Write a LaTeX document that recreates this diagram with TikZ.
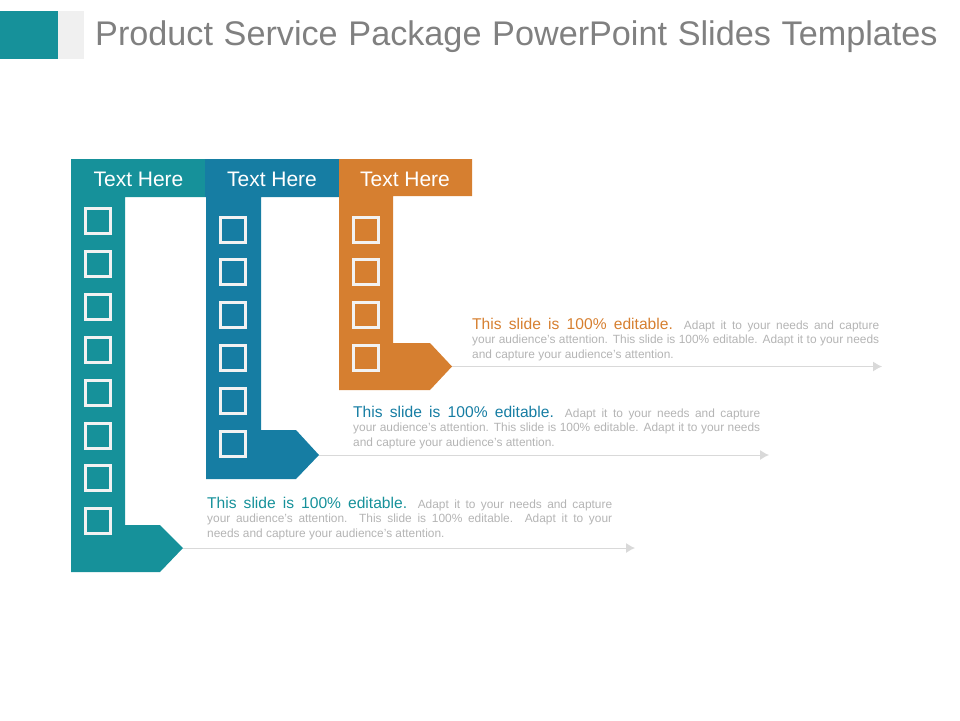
\documentclass[tikz,border=0pt]{standalone}
\usepackage{fontspec}
\setmainfont{Liberation Sans}
\definecolor{tealc}{HTML}{16919A}
\definecolor{bluec}{HTML}{167DA3}
\definecolor{orangec}{HTML}{D67F30}
\definecolor{greyc}{HTML}{B4B4B4}
\definecolor{linec}{HTML}{D9D9D9}
\usetikzlibrary{arrows.meta}
\tolerance=9999
\hbadness=10000
\hfuzz=20pt
\newcommand{\leadtext}[2]{{\fontsize{15.6}{14.4}\selectfont\color{#1}#2}}
\tikzset{
  head/.style={
    % The shape:
    shape=rectangle,inner sep=0pt,
    % The size:
    minimum width=134,minimum height=38,
    % The text:
    text=white,font=\fontsize{21}{24}\selectfont
  },
  box/.style={
    shape=rectangle,inner sep=0pt,minimum size=25,
    draw=white!95!black,line width=3.5
  },
  note/.style={
    anchor=north west,inner sep=0pt,text width=#1,align=justify,
    text=greyc,font=\fontsize{11.9}{14.4}\selectfont
  },
  guide/.style={draw=linec,line width=1,-{Latex[length=9,width=10,fill=linec]}}
}
\begin{document}
\begin{tikzpicture}[x=1pt,y=-1pt]
	\useasboundingbox (0,0) rectangle (960,720);
	% title band
	\fill[tealc] (0,11) rectangle (58,59);
	\fill[white!94!black] (58,11) rectangle (84,59);
	\node[anchor=west,inner sep=0pt,text=black!50,font=\fontsize{34.2}{40}\selectfont] (title) at (95,36.5)
		{Product\hspace{1.2pt} Service\hspace{1.2pt} Package\hspace{1.2pt} PowerPoint\hspace{1.2pt} Slides\hspace{1.2pt} Templates};
	% the three bars
	\fill[tealc] (71,159) -- (205,159) -- (205,197) -- (125,197) -- (125,525) -- (160,525)
		-- (183,548) coordinate (tipa) -- (160,572) -- (71,572) -- cycle;
	\fill[bluec] (205,159) -- (339,159) -- (339,197) -- (261,197) -- (261,430) -- (296,430)
		-- (319,455) coordinate (tipb) -- (296,479) -- (206,479) -- (206,197) -- (205,197) -- cycle;
	\fill[orangec] (339,159) -- (472,159) -- (472,196) -- (393,196) -- (393,343) -- (430,343)
		-- (452,366.5) coordinate (tipc) -- (430,390) -- (339,390) -- cycle;
	\node[head] (heada) at (138.5,179) {Text Here};
	\node[head] (headb) at (272,179) {Text Here};
	\node[head] (headc) at (405,179) {Text Here};
	% check boxes
	\foreach \y [count=\i] in {221,264,307,350,393,436,478,521}
		\node[box] (boxa\i) at (98,\y) {};
	\foreach \y [count=\i] in {230,272,315,358,401,444}
		\node[box] (boxb\i) at (233,\y) {};
	\foreach \y [count=\i] in {230,272,315,358}
		\node[box] (boxc\i) at (366,\y) {};
	% guide lines
	\coordinate (enda) at (635,548);
	\coordinate (endb) at (769,455);
	\coordinate (endc) at (882,366.5);
	\draw[guide] (tipa) -- (enda);
	\draw[guide] (tipb) -- (endb);
	\draw[guide] (tipc) -- (endc);
	% notes
	\node[note=405] (notea) at (207,497) {\leadtext{tealc}{This slide is 100\% editable.} Adapt it to your needs and capture\linebreak your audience's attention. This slide is 100\% editable. Adapt it to your\linebreak needs and capture your audience's attention.};
	\node[note=407] (noteb) at (353,406) {\leadtext{bluec}{This slide is 100\% editable.} Adapt it to your needs and capture\linebreak your audience's attention. This slide is 100\% editable. Adapt it to your needs\linebreak and capture your audience's attention.};
	\node[note=407] (notec) at (472,318) {\leadtext{orangec}{This slide is 100\% editable.} Adapt it to your needs and capture\linebreak your audience's attention. This slide is 100\% editable. Adapt it to your needs\linebreak and capture your audience's attention.};
\end{tikzpicture}
\end{document}
